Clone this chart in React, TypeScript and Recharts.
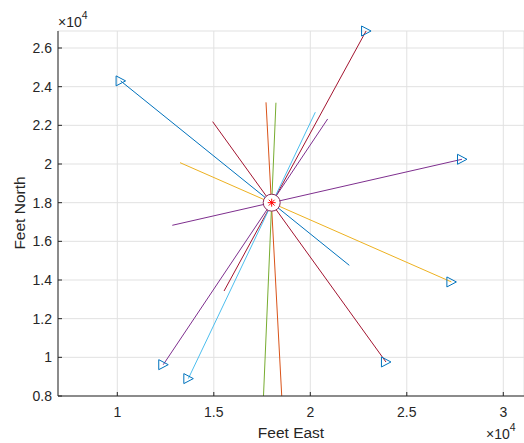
import {
  CartesianGrid,
  ComposedChart,
  Line,
  Scatter,
  XAxis,
  YAxis
} from "recharts";

// Track geometry in feet (east, north)
const trackColors = ["#0072BD", "#EDB120", "#7E2F8E", "#A2142F", "#A2142F", "#D95319", "#77AC30", "#4DBEEE", "#7E2F8E"];
const startEast = [22020, 13250, 12850, 14940, 15530, 17705, 18220, 20260, 20900];
const startNorth = [14760, 20070, 16830, 22190, 13430, 23190, 23170, 22680, 22330];
const endEast = [10170, 27310, 27860, 23920, 22890, 18520, 17575, 13680, 12380];
const endNorth = [24300, 13900, 20245, 9760, 26880, 8000, 8000, 8900, 9620];
const endMarked = [true, true, true, true, true, false, false, true, true];

// Observer position
const originEast = [18000];
const originNorth = [18000];

// Axes
const eastLimits = [6927, 31073];
const northLimits = [8000, 26880];
const eastTicks = [10000, 15000, 20000, 25000, 30000];
const northTicks = [8000, 10000, 12000, 14000, 16000, 18000, 20000, 22000, 24000, 26000];

const INK = "#262626";
const FONT = '"Liberation Sans", Arial, Helvetica, sans-serif';

const tracks = trackColors.map((color, i) => ({
  color,
  points: [
    { x: startEast[i], y: startNorth[i] },
    { x: endEast[i], y: endNorth[i] }
  ]
}));

const heads = endMarked
  .map((marked, i) => (marked ? { x: endEast[i], y: endNorth[i] } : null))
  .filter(Boolean) as { x: number; y: number }[];

const origins = originEast.map((x, i) => ({ x, y: originNorth[i] }));

const fmt = (v: number) => String(+(v / 10000).toFixed(1));

function TriangleHead({ cx, cy }: { cx?: number; cy?: number }) {
  if (cx == null || cy == null) return null;
  return (
    <path
      d={`M${cx - 4.5},${cy - 5}L${cx + 5},${cy}L${cx - 4.5},${cy + 5}Z`}
      fill="none"
      stroke="#0072BD"
      strokeWidth={1}
    />
  );
}

function OriginMark({ cx, cy }: { cx?: number; cy?: number }) {
  if (cx == null || cy == null) return null;
  const d = 2.9;
  return (
    <g>
      <circle cx={cx} cy={cy} r={8.5} fill="#FFFFFF" stroke="#8A2A5C" strokeWidth={1} />
      <g stroke="#FF0000" strokeWidth={1}>
        <line x1={cx - 4} y1={cy} x2={cx + 4} y2={cy} />
        <line x1={cx} y1={cy - 4} x2={cx} y2={cy + 4} />
        <line x1={cx - d} y1={cy - d} x2={cx + d} y2={cy + d} />
        <line x1={cx - d} y1={cy + d} x2={cx + d} y2={cy - d} />
      </g>
    </g>
  );
}

function Exponent({ x, y }: { x: number; y: number }) {
  return (
    <text x={x} y={y} fill={INK} fontSize={14} fontFamily={FONT}>
      <tspan>×10</tspan>
      <tspan dy={-8} fontSize={10.5}>4</tspan>
    </text>
  );
}

function EastLabel() {
  return (
    <g>
      <text x={291} y={438} textAnchor="middle" fill={INK} fontSize={15.5} fontFamily={FONT}>
        Feet East
      </text>
      <Exponent x={486} y={439} />
    </g>
  );
}

function NorthLabel() {
  return (
    <g>
      <text
        x={25}
        y={213}
        transform="rotate(-90 25 213)"
        textAnchor="middle"
        fill={INK}
        fontSize={15.5}
        fontFamily={FONT}
      >
        Feet North
      </text>
      <Exponent x={58} y={27} />
    </g>
  );
}

export default function App() {
  return (
    <div
      style={{
        position: "absolute",
        left: 0,
        top: 0,
        width: 524,
        height: 443,
        background: "#FFFFFF",
        fontFamily: FONT
      }}
    >
      <ComposedChart width={524} height={443} margin={{ top: 31, right: 0, bottom: 0, left: 0 }}>
        <CartesianGrid stroke="#E1E1E1" strokeWidth={1} />
        <XAxis
          type="number"
          dataKey="x"
          domain={eastLimits}
          ticks={eastTicks}
          interval={0}
          tickFormatter={fmt}
          height={47}
          axisLine={{ stroke: INK }}
          tickLine={{ stroke: INK }}
          tickSize={-4}
          tickMargin={15}
          tick={{ fill: INK, fontSize: 14, fontFamily: FONT }}
          label={<EastLabel />}
        />
        <YAxis
          type="number"
          dataKey="y"
          domain={northLimits}
          ticks={northTicks}
          interval={0}
          tickFormatter={fmt}
          width={58}
          axisLine={{ stroke: INK }}
          tickLine={{ stroke: INK }}
          tickSize={-4}
          tickMargin={10}
          tick={{ fill: INK, fontSize: 14, fontFamily: FONT }}
          label={<NorthLabel />}
        />
        {tracks.map((t, i) => (
          <Line
            key={`track-${i}`}
            data={t.points}
            dataKey="y"
            type="linear"
            stroke={t.color}
            strokeWidth={1}
            dot={false}
            activeDot={false}
            isAnimationActive={false}
          />
        ))}
        <Scatter data={heads} shape={<TriangleHead />} isAnimationActive={false} />
        <Scatter data={origins} shape={<OriginMark />} isAnimationActive={false} />
      </ComposedChart>
    </div>
  );
}
